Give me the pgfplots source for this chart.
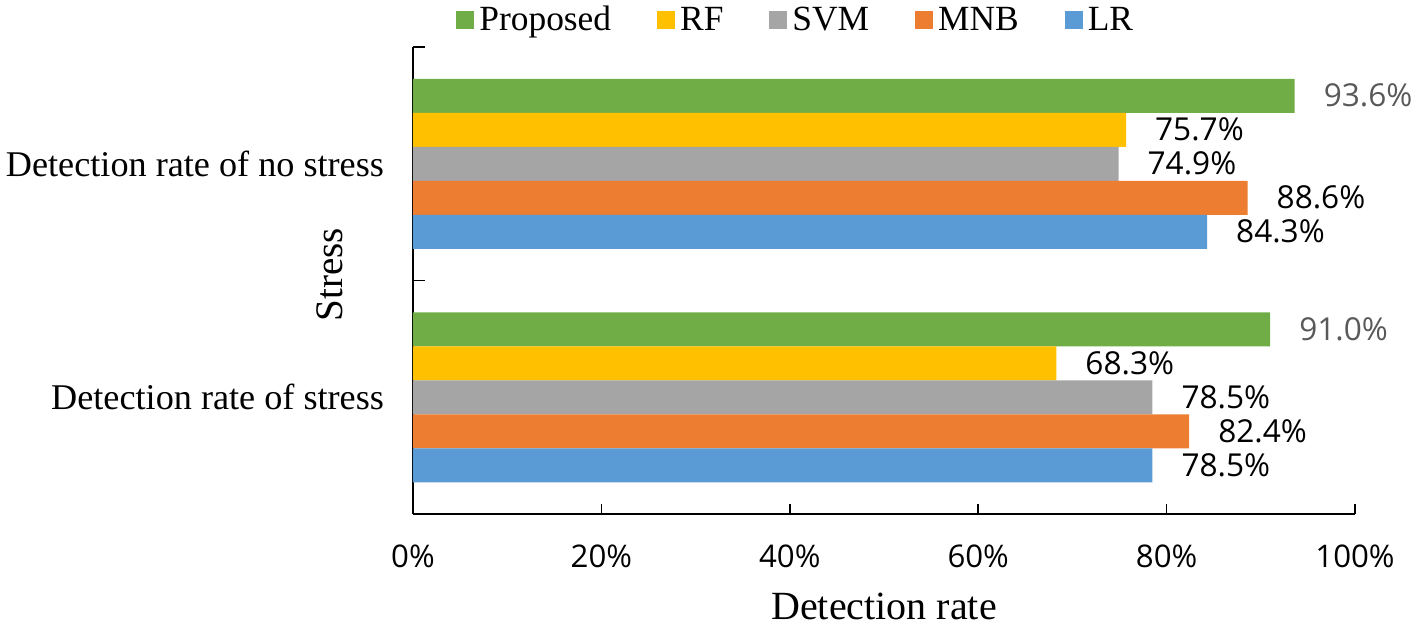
\documentclass[border=0pt]{standalone}
\usepackage{fontspec}
\setmainfont{Liberation Serif}
\newfontfamily\tickfont{Open Sans}
\usepackage{pgfplots}
\pgfplotsset{compat=1.18}
\definecolor{cGreen}{HTML}{70AD47}
\definecolor{cYellow}{HTML}{FFC000}
\definecolor{cGray}{HTML}{A5A5A5}
\definecolor{cOrange}{HTML}{ED7D31}
\definecolor{cBlue}{HTML}{5B9BD5}
\definecolor{cLab}{HTML}{595959}
\begin{document}
\begin{tikzpicture}
\path[use as bounding box] (-206.5pt,-57pt) rectangle (502pt,257pt);
\begin{axis}[
  at={(0,0)}, anchor=south west,
  scale only axis, width=471pt, height=233.5pt,
  xbar, bar width=0.1456,
  xmin=0, xmax=100, ymin=-0.5, ymax=1.5,
  axis x line*=bottom, axis y line*=left,
  axis line style={line width=0.8pt, -},
  clip=false,
  xtick={0,20,40,60,80,100},
  xticklabels={0\%,20\%,40\%,60\%,80\%,100\%},
  xticklabel style={font=\tickfont\fontsize{15.6}{18}\selectfont, yshift=-12pt},
  x tick style={line width=0.8pt, black},
  tick align=inside, major tick length=5pt,
  ytick={0,1},
  yticklabels={Detection rate of stress, Detection rate of no stress},
  yticklabel style={font=\fontsize{18.1}{20}\selectfont, xshift=-11pt},
  major y tick style={draw=none},
  minor ytick={-0.5,0.5,1.5},
  minor y tick style={line width=0.8pt, black},
  minor tick length=6pt,
  xlabel={Detection rate},
  xlabel style={font=\fontsize{20}{22}\selectfont, at={(axis description cs:0.5,0)}, anchor=center, yshift=-46pt},
  ylabel={Stress},
  ylabel style={font=\fontsize{19.5}{22}\selectfont, at={(axis description cs:-0.0881,0.5128)}, anchor=center},
  /pgf/number format/assume math mode=true,
  point meta=x,
  nodes near coords={\pgfmathprintnumber[fixed,fixed zerofill,precision=1]{\pgfplotspointmeta}\%},
  every node near coord/.append style={anchor=west, xshift=11pt, font=\tickfont\fontsize{15.8}{18}\selectfont, text=black},
  legend columns=5,
  legend image code/.code={\path (-23pt,0pt); \fill[#1,draw=none] (0pt,-4.5pt) rectangle (9pt,4.5pt);},
  legend style={at={(axis description cs:0,1)}, anchor=west, xshift=-1.5pt, yshift=13.5pt,
    draw=none, fill=none, inner sep=0pt, font=\fontsize{17.7}{20}\selectfont,
    nodes={inner sep=0pt}, column sep=0pt},
]
\addplot[fill=cGreen, draw=none, bar shift=0.2912, every node near coord/.append style={text=cLab}] coordinates {(91.0,0) (93.6,1)};
\addplot[fill=cYellow, draw=none, bar shift=0.1456] coordinates {(68.3,0) (75.7,1)};
\addplot[fill=cGray, draw=none, bar shift=0] coordinates {(78.5,0) (74.9,1)};
\addplot[fill=cOrange, draw=none, bar shift=-0.1456] coordinates {(82.4,0) (88.6,1)};
\addplot[fill=cBlue, draw=none, bar shift=-0.2912] coordinates {(78.5,0) (84.3,1)};
\legend{\hspace{2.5pt}Proposed, \hspace{2.5pt}RF, \hspace{2.5pt}SVM, \hspace{2.5pt}MNB, \hspace{2.5pt}LR}
\end{axis}
\end{tikzpicture}
\end{document}
